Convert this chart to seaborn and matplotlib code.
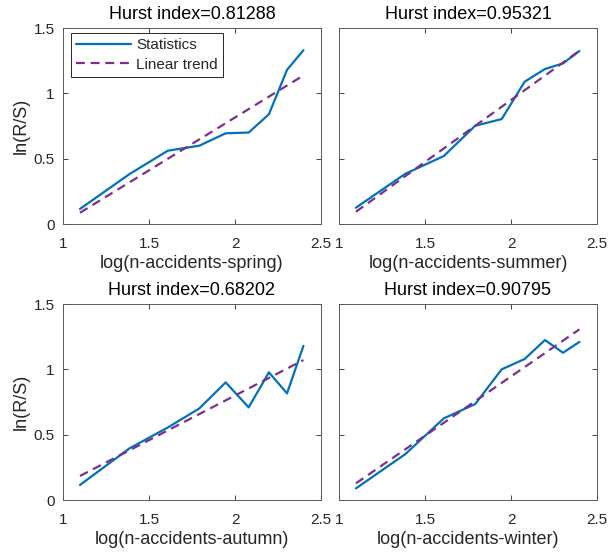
import numpy as np
import pandas as pd
import matplotlib
matplotlib.use("Agg")
import matplotlib.pyplot as plt
import seaborn as sns
from matplotlib.ticker import FormatStrFormatter

# ---- data ----
x_vals = [1.0986, 1.3863, 1.6094, 1.7918, 1.9459, 2.0794, 2.1972, 2.3026, 2.3979]
seasons = ["spring", "summer", "autumn", "winter"]
hurst = ["0.81288", "0.95321", "0.68202", "0.90795"]
stats_spring = [0.115, 0.382, 0.561, 0.599, 0.694, 0.700, 0.840, 1.180, 1.330]
stats_summer = [0.125, 0.385, 0.520, 0.752, 0.803, 1.089, 1.186, 1.229, 1.324]
stats_autumn = [0.115, 0.395, 0.555, 0.700, 0.900, 0.709, 0.977, 0.816, 1.180]
stats_winter = [0.089, 0.352, 0.625, 0.734, 1.000, 1.079, 1.224, 1.127, 1.210]
trend_spring = [0.086, 1.137]
trend_summer = [0.094, 1.326]
trend_autumn = [0.184, 1.071]
trend_winter = [0.128, 1.306]
x_ticks = [1, 1.5, 2, 2.5]
y_ticks = [0, 0.5, 1, 1.5]

stats_all = [stats_spring, stats_summer, stats_autumn, stats_winter]
trend_all = [trend_spring, trend_summer, trend_autumn, trend_winter]

sns.set_theme(style="ticks")
plt.rcParams["font.family"] = ["Liberation Sans", "DejaVu Sans"]
plt.rcParams["axes.edgecolor"] = "#262626"
plt.rcParams["xtick.color"] = "#262626"
plt.rcParams["ytick.color"] = "#262626"

W, H = 609, 555
fig = plt.figure(figsize=(W / 100, H / 100), dpi=100)
fig.patch.set_facecolor("white")

boxes = [(63, 28), (339, 28), (63, 304), (339, 304)]
aw, ah = 258, 196

blue = "#0072BD"
purple = "#7E2F8E"
txt = "#262626"

for i, (lx, ty) in enumerate(boxes):
    ax = fig.add_axes([lx / W, (H - ty - ah) / H, aw / W, ah / H])
    df = pd.DataFrame({"x": x_vals, "y": stats_all[i]})
    dft = pd.DataFrame({"x": [x_vals[0], x_vals[-1]], "y": trend_all[i]})
    sns.lineplot(data=df, x="x", y="y", ax=ax, color=blue, linewidth=1.6,
                 label="Statistics" if i == 0 else None, legend=False, sort=False)
    sns.lineplot(data=dft, x="x", y="y", ax=ax, color=purple, linewidth=1.6,
                 dashes=False, label="Linear trend" if i == 0 else None,
                 legend=False, sort=False)
    ax.lines[-1].set_dashes((4, 2.6))
    ax.set_xlim(1, 2.5)
    ax.set_ylim(0, 1.5)
    ax.set_xticks(x_ticks)
    ax.set_yticks(y_ticks)
    ax.xaxis.set_major_formatter(FormatStrFormatter("%g"))
    ax.yaxis.set_major_formatter(FormatStrFormatter("%g"))
    ax.tick_params(direction="in", length=3.5, width=0.6, labelsize=11,
                   top=True, right=True, labelcolor=txt)
    ax.tick_params(axis="x", pad=9)
    ax.tick_params(axis="y", pad=6)
    for s in ax.spines.values():
        s.set_linewidth(0.7)
        s.set_color("#5a5a5a")
    ax.set_xlabel(f"log(n-accidents-{seasons[i]})", fontsize=13, color=txt, labelpad=3.5)
    if i % 2 == 0:
        ax.set_ylabel("ln(R/S)", fontsize=13, color=txt, labelpad=3)
    else:
        ax.set_ylabel("")
        ax.tick_params(axis="y", labelleft=False)
    ax.set_title(f"Hurst index={hurst[i]}", fontsize=13, color="black", pad=6.5)
    ax.set_facecolor("white")
    if i == 0:
        leg = ax.legend(loc="upper left", bbox_to_anchor=(0.03, 0.975),
                        fontsize=11, frameon=True, fancybox=False,
                        handlelength=3.6, handletextpad=0.35,
                        borderaxespad=0, borderpad=0.35, labelspacing=0.35)
        leg.get_frame().set_edgecolor("#262626")
        leg.get_frame().set_linewidth(0.7)
        leg.get_frame().set_alpha(1)

fig.savefig("out.png", dpi=100, facecolor="white")
